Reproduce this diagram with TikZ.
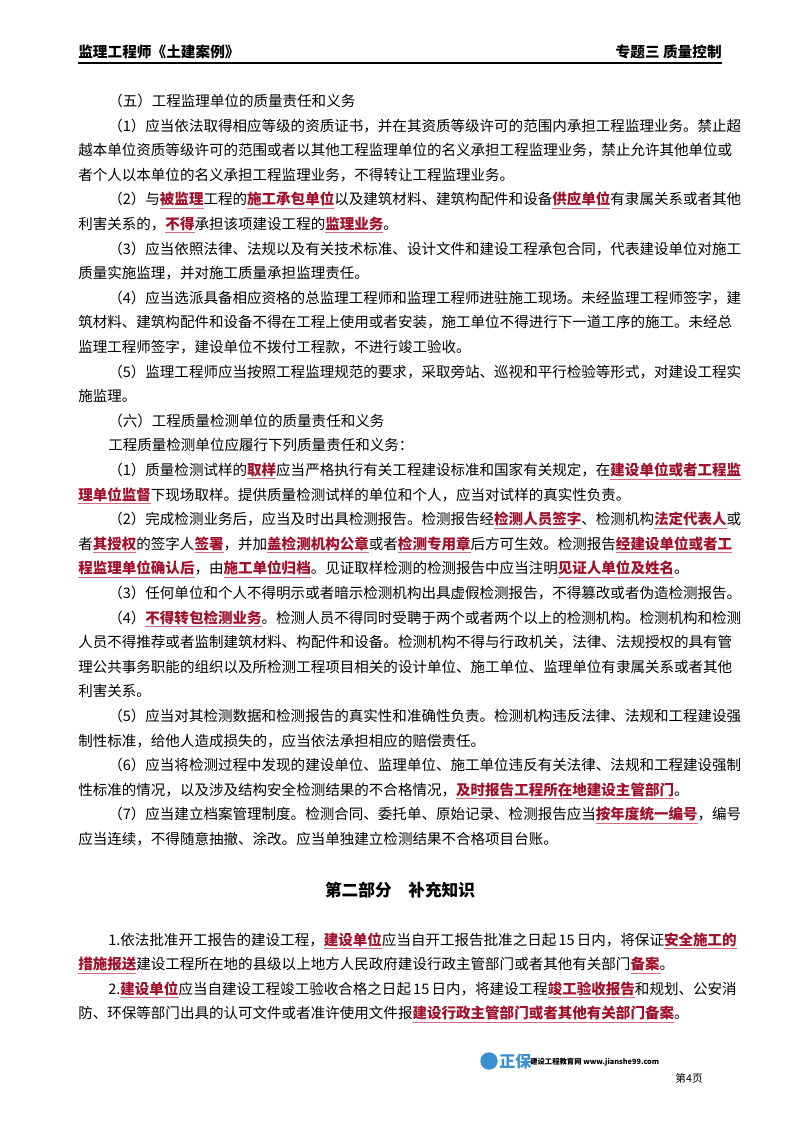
\documentclass[tikz,border=0pt]{standalone}
\usepackage{fontspec}
\setmainfont{Noto Sans CJK SC}
\usepackage{xcolor}
\definecolor{hlred}{HTML}{A0102A}
\definecolor{ulred}{HTML}{D06A80}
\definecolor{logob}{HTML}{3A8FD0}
\XeTeXlinebreaklocale "zh"
\XeTeXlinebreakskip=0pt plus 3pt minus 1pt
\newcommand\hl[1]{\textcolor{ulred}{\underline{\textcolor{hlred}{\bfseries #1}}}}
\newcommand\FL[1]{\hbox to 483pt{#1}}
\newcommand\FI[1]{\hbox to 460.5pt{#1}}
\begin{document}
\begin{tikzpicture}[x=0.75pt,y=-0.75pt,
  ln/.style={anchor=base west,inner sep=0pt,font=\fontsize{10.9}{13}\selectfont}]
\useasboundingbox (0,0) rectangle (800,1132);
\fill[white] (0,0) rectangle (800,1132);
% header
\node[anchor=base west,inner sep=0,font=\fontsize{11}{13}\selectfont\bfseries] (hl) at (78,57) {监理工程师《土建案例》};
\node[anchor=base east,inner sep=0,font=\fontsize{11}{13}\selectfont\bfseries] (hr) at (722,57) {专题三\ 质量控制};
\draw[line width=1.2pt] (78,63) -- (722,63);
% section 5
\node[ln] (t5) at (108,106) {（五）工程监理单位的质量责任和义务};
\node[ln] (l0) at (108,131) {\FI{（1）应当依法取得相应等级的资质证书，并在其资质等级许可的范围内承担工程监理业务。禁止超}};
\node[ln] (l1) at (78,155.6) {\FL{越本单位资质等级许可的范围或者以其他工程监理单位的名义承担工程监理业务，禁止允许其他单位或}};
\node[ln] (l2) at (78,180.2) {者个人以本单位的名义承担工程监理业务，不得转让工程监理业务。};
\node[ln] (l3) at (108,204.8) {\FI{（2）与\hl{被监理}工程的\hl{施工承包单位}以及建筑材料、建筑构配件和设备\hl{供应单位}有隶属关系或者其他}};
\node[ln] (l4) at (78,229.4) {利害关系的，\hl{不得}承担该项建设工程的\hl{监理业务}。};
\node[ln] (l5) at (108,254) {\FI{（3）应当依照法律、法规以及有关技术标准、设计文件和建设工程承包合同，代表建设单位对施工}};
\node[ln] (l6) at (78,278.6) {质量实施监理，并对施工质量承担监理责任。};
\node[ln] (l7) at (108,303.2) {\FI{（4）应当选派具备相应资格的总监理工程师和监理工程师进驻施工现场。未经监理工程师签字，建}};
\node[ln] (l8) at (78,327.8) {\FL{筑材料、建筑构配件和设备不得在工程上使用或者安装，施工单位不得进行下一道工序的施工。未经总}};
\node[ln] (l9) at (78,352.4) {监理工程师签字，建设单位不拨付工程款，不进行竣工验收。};
\node[ln] (l10) at (108,377) {\FI{（5）监理工程师应当按照工程监理规范的要求，采取旁站、巡视和平行检验等形式，对建设工程实}};
\node[ln] (l11) at (78,401.6) {施监理。};
% section 6
\node[ln] (l12) at (108,426.2) {（六）工程质量检测单位的质量责任和义务};
\node[ln] (l13) at (108,450.8) {工程质量检测单位应履行下列质量责任和义务：};
\node[ln] (l14) at (108,475.4) {\FI{（1）质量检测试样的\hl{取样}应当严格执行有关工程建设标准和国家有关规定，在\hl{建设单位或者工程监}}};
\node[ln] (l15) at (78,500) {\hl{理单位监督}下现场取样。提供质量检测试样的单位和个人，应当对试样的真实性负责。};
\node[ln] (l16) at (108,524.6) {\FI{（2）完成检测业务后，应当及时出具检测报告。检测报告经\hl{检测人员签字}、检测机构\hl{法定代表人}或}};
\node[ln] (l17) at (78,549.2) {\FL{者\hl{其授权}的签字人\hl{签署}，并加\hl{盖检测机构公章}或者\hl{检测专用章}后方可生效。检测报告\hl{经建设单位或者工}}};
\node[ln] (l18) at (78,573.8) {\hl{程监理单位确认后}，由\hl{施工单位归档}。见证取样检测的检测报告中应当注明\hl{见证人单位及姓名}。};
\node[ln] (l19) at (108,598.4) {\FI{（3）任何单位和个人不得明示或者暗示检测机构出具虚假检测报告，不得篡改或者伪造检测报告。}};
\node[ln] (l20) at (108,623) {\FI{（4）\hl{不得转包检测业务}。检测人员不得同时受聘于两个或者两个以上的检测机构。检测机构和检测}};
\node[ln] (l21) at (78,647.6) {\FL{人员不得推荐或者监制建筑材料、构配件和设备。检测机构不得与行政机关，法律、法规授权的具有管}};
\node[ln] (l22) at (78,672.2) {\FL{理公共事务职能的组织以及所检测工程项目相关的设计单位、施工单位、监理单位有隶属关系或者其他}};
\node[ln] (l23) at (78,696.8) {利害关系。};
\node[ln] (l24) at (108,721.4) {\FI{（5）应当对其检测数据和检测报告的真实性和准确性负责。检测机构违反法律、法规和工程建设强}};
\node[ln] (l25) at (78,746) {制性标准，给他人造成损失的，应当依法承担相应的赔偿责任。};
\node[ln] (l26) at (108,770.6) {\FI{（6）应当将检测过程中发现的建设单位、监理单位、施工单位违反有关法律、法规和工程建设强制}};
\node[ln] (l27) at (78,795.2) {性标准的情况，以及涉及结构安全检测结果的不合格情况，\hl{及时报告工程所在地建设主管部门}。};
\node[ln] (l28) at (108,819.8) {\FI{（7）应当建立档案管理制度。检测合同、委托单、原始记录、检测报告应当\hl{按年度统一编号}，编号}};
\node[ln] (l29) at (78,844.4) {应当连续，不得随意抽撤、涂改。应当单独建立检测结果不合格项目台账。};
% part 2
\node[anchor=base,inner sep=0,font=\fontsize{12.5}{15}\selectfont\bfseries] (p2) at (400,896) {第二部分\quad 补充知识};
\node[ln] (m0) at (108,945) {\FI{1.依法批准开工报告的建设工程，\hl{建设单位}应当自开工报告批准之日起 15 日内，将保证\hl{安全施工的}}};
\node[ln] (m1) at (78,969.6) {\hl{措施报送}建设工程所在地的县级以上地方人民政府建设行政主管部门或者其他有关部门\hl{备案}。};
\node[ln] (m2) at (108,994.2) {\FI{2.\hl{建设单位}应当自建设工程竣工验收合格之日起 15 日内，将建设工程\hl{竣工验收报告}和规划、公安消}};
\node[ln] (m3) at (78,1018.8) {防、环保等部门出具的认可文件或者准许使用文件报\hl{建设行政主管部门或者其他有关部门备案}。};
% footer
\node[circle,fill=logob,minimum size=13pt,inner sep=0] (lg) at (489,1061) {};
\node[anchor=west,inner sep=0,text=logob,font=\fontsize{12}{14}\selectfont\bfseries] (lt) at (499,1061) {正保};
\node[anchor=west,inner sep=0,font=\fontsize{5.5}{7}\selectfont\bfseries] (lu) at (530,1062) {建设工程教育网 www.jianshe99.com};
\node[anchor=east,inner sep=0,font=\fontsize{8}{10}\selectfont] (pg) at (703,1078) {第4页};
\end{tikzpicture}
\end{document}
